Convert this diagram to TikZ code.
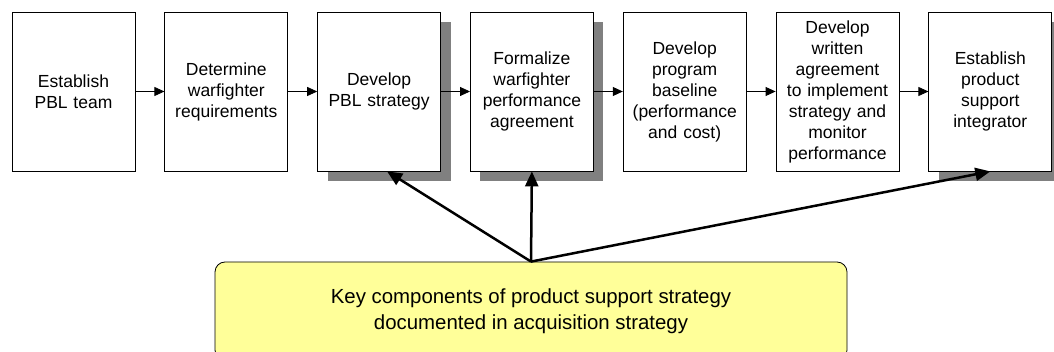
\documentclass[tikz,border=0pt]{standalone}
\usepackage{fontspec}
\setmainfont{Liberation Sans}
\usepackage{tikz}
\usetikzlibrary{positioning}
\usetikzlibrary{arrows.meta,shadows}
\usepackage{xcolor}
\definecolor{keyyellow}{HTML}{FFFF99}
\definecolor{shadegray}{HTML}{808080}

\begin{document}
\begin{tikzpicture}[>={Triangle[length=10pt,width=9pt]}, x=1pt, y=1pt,
    stage/.style = {draw, rectangle, line width=0.8pt, fill=white, minimum width=123pt, minimum height=159pt,
      text width=117pt, align=center, inner sep=2pt, font=\fontsize{17.5}{21}\selectfont},
    shaded/.style = {drop shadow={shadow xshift=10pt, shadow yshift=-10pt, fill=shadegray, opacity=1}},
    keybox/.style = {draw, line width=0.8pt, rounded corners=10pt, fill=keyyellow, minimum width=632pt,
      minimum height=98pt, align=center, font=\fontsize{20.4}{25.5}\selectfont},
    bigarrow/.style = {->, >={Triangle[length=15pt,width=13pt]}, line width=2.5pt}
    ]
    \useasboundingbox (0,0) rectangle (1054,352);
    \node[stage] (A) at (73.5,260.5) {Establish\\PBL team};
    \node[stage] (B) [right=29pt of A] {Determine\\warfighter\\requirements};
    \node[stage, shaded] (C) [right=29pt of B] {Develop\\PBL strategy};
    \node[stage, shaded] (D) [right=29pt of C] {Formalize\\warfighter\\performance\\agreement};
    \node[stage] (E) [right=29pt of D] {Develop\\program\\baseline\\(performance\\and cost)};
    \node[stage] (F) [right=29pt of E] {Develop\\written\\agreement\\to implement\\strategy and\\monitor\\performance};
    \node[stage, shaded] (G) [right=29pt of F] {Establish\\product\\support\\integrator};
    \node[keybox] (K) at (531,41) {Key components of product support strategy\\documented in acquisition strategy};

    \draw[->, line width=0.8pt] (A) -- (B);
    \draw[->, line width=0.8pt] (B) -- (C);
    \draw[->, line width=0.8pt] (C) -- (D);
    \draw[->, line width=0.8pt] (D) -- (E);
    \draw[->, line width=0.8pt] (E) -- (F);
    \draw[->, line width=0.8pt] (F) -- (G);

    \draw[bigarrow] (K.north) -- ([xshift=8pt]C.south);
    \draw[bigarrow] (K.north) -- (D.south);
    \draw[bigarrow] (K.north) -- (G.south);
\end{tikzpicture}
\end{document}
